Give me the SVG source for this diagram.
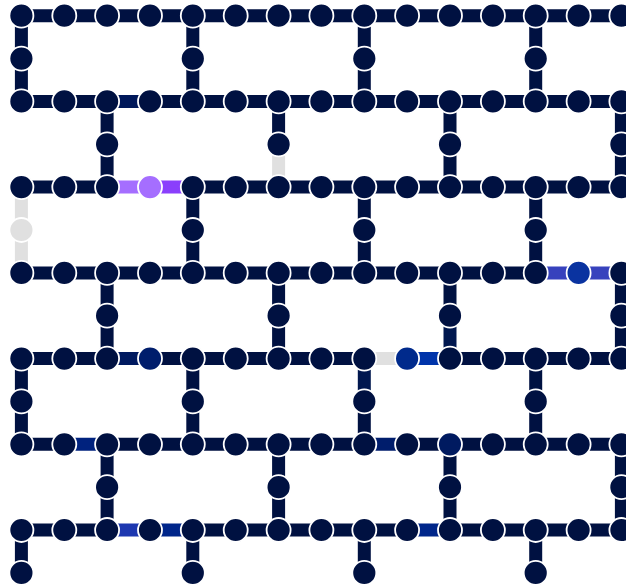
<svg xmlns="http://www.w3.org/2000/svg" width="626" height="586" viewBox="0 0 626 586">
<style>
.e{stroke:#001141;stroke-width:13;stroke-linecap:butt}
.n{fill:#001141;stroke:#ffffff;stroke-width:1.8}
</style>
<rect width="626" height="586" fill="#ffffff"/>
<g id="connectors">
<!-- row 0 -->
<line class="e" x1="21.4" y1="15.7" x2="64.3" y2="15.7"/><line class="e" x1="64.3" y1="15.7" x2="107.1" y2="15.7"/><line class="e" x1="107.1" y1="15.7" x2="150" y2="15.7"/><line class="e" x1="150" y1="15.7" x2="192.8" y2="15.7"/><line class="e" x1="192.8" y1="15.7" x2="235.7" y2="15.7"/><line class="e" x1="235.7" y1="15.7" x2="278.6" y2="15.7"/><line class="e" x1="278.6" y1="15.7" x2="321.4" y2="15.7"/><line class="e" x1="321.4" y1="15.7" x2="364.3" y2="15.7"/><line class="e" x1="364.3" y1="15.7" x2="407.1" y2="15.7"/><line class="e" x1="407.1" y1="15.7" x2="450" y2="15.7"/><line class="e" x1="450" y1="15.7" x2="492.9" y2="15.7"/><line class="e" x1="492.9" y1="15.7" x2="535.7" y2="15.7"/><line class="e" x1="535.7" y1="15.7" x2="578.6" y2="15.7"/><line class="e" x1="578.6" y1="15.7" x2="621.4" y2="15.7"/>
<!-- row 2 -->
<line class="e" x1="21.4" y1="101.4" x2="64.3" y2="101.4"/><line class="e" x1="64.3" y1="101.4" x2="107.1" y2="101.4"/><line class="e" x1="107.1" y1="101.4" x2="150" y2="101.4" style="stroke:#00185a"/><line class="e" x1="150" y1="101.4" x2="192.8" y2="101.4"/><line class="e" x1="192.8" y1="101.4" x2="235.7" y2="101.4"/><line class="e" x1="235.7" y1="101.4" x2="278.6" y2="101.4"/><line class="e" x1="278.6" y1="101.4" x2="321.4" y2="101.4"/><line class="e" x1="321.4" y1="101.4" x2="364.3" y2="101.4"/><line class="e" x1="364.3" y1="101.4" x2="407.1" y2="101.4"/><line class="e" x1="407.1" y1="101.4" x2="450" y2="101.4"/><line class="e" x1="450" y1="101.4" x2="492.9" y2="101.4"/><line class="e" x1="492.9" y1="101.4" x2="535.7" y2="101.4"/><line class="e" x1="535.7" y1="101.4" x2="578.6" y2="101.4"/><line class="e" x1="578.6" y1="101.4" x2="621.4" y2="101.4"/>
<!-- row 4 -->
<line class="e" x1="21.4" y1="187.1" x2="64.3" y2="187.1"/><line class="e" x1="64.3" y1="187.1" x2="107.1" y2="187.1"/><line class="e" x1="107.1" y1="187.1" x2="150" y2="187.1" style="stroke:#a56eff"/><line class="e" x1="150" y1="187.1" x2="192.8" y2="187.1" style="stroke:#8a3ffc"/><line class="e" x1="192.8" y1="187.1" x2="235.7" y2="187.1"/><line class="e" x1="235.7" y1="187.1" x2="278.6" y2="187.1"/><line class="e" x1="278.6" y1="187.1" x2="321.4" y2="187.1"/><line class="e" x1="321.4" y1="187.1" x2="364.3" y2="187.1"/><line class="e" x1="364.3" y1="187.1" x2="407.1" y2="187.1"/><line class="e" x1="407.1" y1="187.1" x2="450" y2="187.1"/><line class="e" x1="450" y1="187.1" x2="492.9" y2="187.1"/><line class="e" x1="492.9" y1="187.1" x2="535.7" y2="187.1"/><line class="e" x1="535.7" y1="187.1" x2="578.6" y2="187.1"/><line class="e" x1="578.6" y1="187.1" x2="621.4" y2="187.1"/>
<!-- row 6 -->
<line class="e" x1="21.4" y1="272.9" x2="64.3" y2="272.9"/><line class="e" x1="64.3" y1="272.9" x2="107.1" y2="272.9"/><line class="e" x1="107.1" y1="272.9" x2="150" y2="272.9"/><line class="e" x1="150" y1="272.9" x2="192.8" y2="272.9"/><line class="e" x1="192.8" y1="272.9" x2="235.7" y2="272.9"/><line class="e" x1="235.7" y1="272.9" x2="278.6" y2="272.9"/><line class="e" x1="278.6" y1="272.9" x2="321.4" y2="272.9"/><line class="e" x1="321.4" y1="272.9" x2="364.3" y2="272.9"/><line class="e" x1="364.3" y1="272.9" x2="407.1" y2="272.9"/><line class="e" x1="407.1" y1="272.9" x2="450" y2="272.9"/><line class="e" x1="450" y1="272.9" x2="492.9" y2="272.9"/><line class="e" x1="492.9" y1="272.9" x2="535.7" y2="272.9"/><line class="e" x1="535.7" y1="272.9" x2="578.6" y2="272.9" style="stroke:#3742bd"/><line class="e" x1="578.6" y1="272.9" x2="621.4" y2="272.9" style="stroke:#3742bd"/>
<!-- row 8 -->
<line class="e" x1="21.4" y1="358.6" x2="64.3" y2="358.6"/><line class="e" x1="64.3" y1="358.6" x2="107.1" y2="358.6"/><line class="e" x1="107.1" y1="358.6" x2="150" y2="358.6" style="stroke:#001a60"/><line class="e" x1="150" y1="358.6" x2="192.8" y2="358.6"/><line class="e" x1="192.8" y1="358.6" x2="235.7" y2="358.6"/><line class="e" x1="235.7" y1="358.6" x2="278.6" y2="358.6"/><line class="e" x1="278.6" y1="358.6" x2="321.4" y2="358.6"/><line class="e" x1="321.4" y1="358.6" x2="364.3" y2="358.6"/><line class="e" x1="364.3" y1="358.6" x2="407.1" y2="358.6" style="stroke:#e0e0e0"/><line class="e" x1="407.1" y1="358.6" x2="450" y2="358.6" style="stroke:#0034aa"/><line class="e" x1="450" y1="358.6" x2="492.9" y2="358.6"/><line class="e" x1="492.9" y1="358.6" x2="535.7" y2="358.6"/><line class="e" x1="535.7" y1="358.6" x2="578.6" y2="358.6"/><line class="e" x1="578.6" y1="358.6" x2="621.4" y2="358.6"/>
<!-- row 10 -->
<line class="e" x1="21.4" y1="444.3" x2="64.3" y2="444.3"/><line class="e" x1="64.3" y1="444.3" x2="107.1" y2="444.3" style="stroke:#00227e"/><line class="e" x1="107.1" y1="444.3" x2="150" y2="444.3"/><line class="e" x1="150" y1="444.3" x2="192.8" y2="444.3"/><line class="e" x1="192.8" y1="444.3" x2="235.7" y2="444.3"/><line class="e" x1="235.7" y1="444.3" x2="278.6" y2="444.3"/><line class="e" x1="278.6" y1="444.3" x2="321.4" y2="444.3"/><line class="e" x1="321.4" y1="444.3" x2="364.3" y2="444.3"/><line class="e" x1="364.3" y1="444.3" x2="407.1" y2="444.3" style="stroke:#001d6c"/><line class="e" x1="407.1" y1="444.3" x2="450" y2="444.3"/><line class="e" x1="450" y1="444.3" x2="492.9" y2="444.3"/><line class="e" x1="492.9" y1="444.3" x2="535.7" y2="444.3"/><line class="e" x1="535.7" y1="444.3" x2="578.6" y2="444.3"/><line class="e" x1="578.6" y1="444.3" x2="621.4" y2="444.3"/>
<!-- row 12 -->
<line class="e" x1="21.4" y1="530" x2="64.3" y2="530"/><line class="e" x1="64.3" y1="530" x2="107.1" y2="530"/><line class="e" x1="107.1" y1="530" x2="150" y2="530" style="stroke:#1d38b0"/><line class="e" x1="150" y1="530" x2="192.8" y2="530" style="stroke:#00268a"/><line class="e" x1="192.8" y1="530" x2="235.7" y2="530"/><line class="e" x1="235.7" y1="530" x2="278.6" y2="530"/><line class="e" x1="278.6" y1="530" x2="321.4" y2="530"/><line class="e" x1="321.4" y1="530" x2="364.3" y2="530"/><line class="e" x1="364.3" y1="530" x2="407.1" y2="530"/><line class="e" x1="407.1" y1="530" x2="450" y2="530" style="stroke:#00268a"/><line class="e" x1="450" y1="530" x2="492.9" y2="530"/><line class="e" x1="492.9" y1="530" x2="535.7" y2="530"/><line class="e" x1="535.7" y1="530" x2="578.6" y2="530"/><line class="e" x1="578.6" y1="530" x2="621.4" y2="530"/>
<!-- verticals -->
<line class="e" x1="21.4" y1="15.7" x2="21.4" y2="101.4"/><line class="e" x1="192.8" y1="15.7" x2="192.8" y2="101.4"/><line class="e" x1="364.3" y1="15.7" x2="364.3" y2="101.4"/><line class="e" x1="535.7" y1="15.7" x2="535.7" y2="101.4"/>
<line class="e" x1="107.1" y1="101.4" x2="107.1" y2="187.1"/><line class="e" x1="278.6" y1="101.4" x2="278.6" y2="144.3"/><line class="e" x1="278.6" y1="144.3" x2="278.6" y2="187.1" style="stroke:#e0e0e0"/><line class="e" x1="450" y1="101.4" x2="450" y2="187.1"/><line class="e" x1="621.4" y1="101.4" x2="621.4" y2="187.1"/>
<line class="e" x1="21.4" y1="187.1" x2="21.4" y2="272.9" style="stroke:#e0e0e0"/><line class="e" x1="192.8" y1="187.1" x2="192.8" y2="272.9"/><line class="e" x1="364.3" y1="187.1" x2="364.3" y2="272.9"/><line class="e" x1="535.7" y1="187.1" x2="535.7" y2="272.9"/>
<line class="e" x1="107.1" y1="272.9" x2="107.1" y2="358.6"/><line class="e" x1="278.6" y1="272.9" x2="278.6" y2="358.6"/><line class="e" x1="450" y1="272.9" x2="450" y2="315.7"/><line class="e" x1="450" y1="315.7" x2="450" y2="358.6" style="stroke:#00174f"/><line class="e" x1="621.4" y1="272.9" x2="621.4" y2="358.6"/>
<line class="e" x1="21.4" y1="358.6" x2="21.4" y2="444.3"/><line class="e" x1="192.8" y1="358.6" x2="192.8" y2="444.3"/><line class="e" x1="364.3" y1="358.6" x2="364.3" y2="401.4" style="stroke:#00174f"/><line class="e" x1="364.3" y1="401.4" x2="364.3" y2="444.3"/><line class="e" x1="535.7" y1="358.6" x2="535.7" y2="444.3"/>
<line class="e" x1="107.1" y1="444.3" x2="107.1" y2="530"/><line class="e" x1="278.6" y1="444.3" x2="278.6" y2="530"/><line class="e" x1="450" y1="444.3" x2="450" y2="530"/><line class="e" x1="621.4" y1="444.3" x2="621.4" y2="530"/>
<line class="e" x1="21.4" y1="530" x2="21.4" y2="572.9"/><line class="e" x1="192.8" y1="530" x2="192.8" y2="572.9"/><line class="e" x1="364.3" y1="530" x2="364.3" y2="572.9"/><line class="e" x1="535.7" y1="530" x2="535.7" y2="572.9"/>
</g>
<g id="nodes">
<!-- row 0 -->
<g id="n0-0"><circle class="n" cx="21.4" cy="15.7" r="12"/></g><g id="n0-1"><circle class="n" cx="64.3" cy="15.7" r="12"/></g><g id="n0-2"><circle class="n" cx="107.1" cy="15.7" r="12"/></g><g id="n0-3"><circle class="n" cx="150" cy="15.7" r="12"/></g><g id="n0-4"><circle class="n" cx="192.8" cy="15.7" r="12"/></g><g id="n0-5"><circle class="n" cx="235.7" cy="15.7" r="12"/></g><g id="n0-6"><circle class="n" cx="278.6" cy="15.7" r="12"/></g><g id="n0-7"><circle class="n" cx="321.4" cy="15.7" r="12"/></g><g id="n0-8"><circle class="n" cx="364.3" cy="15.7" r="12"/></g><g id="n0-9"><circle class="n" cx="407.1" cy="15.7" r="12"/></g><g id="n0-10"><circle class="n" cx="450" cy="15.7" r="12"/></g><g id="n0-11"><circle class="n" cx="492.9" cy="15.7" r="12"/></g><g id="n0-12"><circle class="n" cx="535.7" cy="15.7" r="12"/></g><g id="n0-13"><circle class="n" cx="578.6" cy="15.7" r="12"/></g><g id="n0-14"><circle class="n" cx="621.4" cy="15.7" r="12"/></g>
<!-- row 1 -->
<g id="n1-0"><circle class="n" cx="21.4" cy="58.6" r="12"/></g><g id="n1-4"><circle class="n" cx="192.8" cy="58.6" r="12"/></g><g id="n1-8"><circle class="n" cx="364.3" cy="58.6" r="12"/></g><g id="n1-12"><circle class="n" cx="535.7" cy="58.6" r="12"/></g>
<!-- row 2 -->
<g id="n2-0"><circle class="n" cx="21.4" cy="101.4" r="12"/></g><g id="n2-1"><circle class="n" cx="64.3" cy="101.4" r="12"/></g><g id="n2-2"><circle class="n" cx="107.1" cy="101.4" r="12"/></g><g id="n2-3"><circle class="n" cx="150" cy="101.4" r="12"/></g><g id="n2-4"><circle class="n" cx="192.8" cy="101.4" r="12"/></g><g id="n2-5"><circle class="n" cx="235.7" cy="101.4" r="12"/></g><g id="n2-6"><circle class="n" cx="278.6" cy="101.4" r="12"/></g><g id="n2-7"><circle class="n" cx="321.4" cy="101.4" r="12"/></g><g id="n2-8"><circle class="n" cx="364.3" cy="101.4" r="12"/></g><g id="n2-9"><circle class="n" cx="407.1" cy="101.4" r="12"/></g><g id="n2-10"><circle class="n" cx="450" cy="101.4" r="12"/></g><g id="n2-11"><circle class="n" cx="492.9" cy="101.4" r="12"/></g><g id="n2-12"><circle class="n" cx="535.7" cy="101.4" r="12"/></g><g id="n2-13"><circle class="n" cx="578.6" cy="101.4" r="12"/></g><g id="n2-14"><circle class="n" cx="621.4" cy="101.4" r="12"/></g>
<!-- row 3 -->
<g id="n3-2"><circle class="n" cx="107.1" cy="144.3" r="12"/></g><g id="n3-6"><circle class="n" cx="278.6" cy="144.3" r="12"/></g><g id="n3-10"><circle class="n" cx="450" cy="144.3" r="12"/></g><g id="n3-14"><circle class="n" cx="621.4" cy="144.3" r="12"/></g>
<!-- row 4 -->
<g id="n4-0"><circle class="n" cx="21.4" cy="187.1" r="12"/></g><g id="n4-1"><circle class="n" cx="64.3" cy="187.1" r="12"/></g><g id="n4-2"><circle class="n" cx="107.1" cy="187.1" r="12"/></g><g id="n4-3"><circle class="n" cx="150" cy="187.1" r="12" style="fill:#a56eff"/></g><g id="n4-4"><circle class="n" cx="192.8" cy="187.1" r="12"/></g><g id="n4-5"><circle class="n" cx="235.7" cy="187.1" r="12"/></g><g id="n4-6"><circle class="n" cx="278.6" cy="187.1" r="12"/></g><g id="n4-7"><circle class="n" cx="321.4" cy="187.1" r="12"/></g><g id="n4-8"><circle class="n" cx="364.3" cy="187.1" r="12"/></g><g id="n4-9"><circle class="n" cx="407.1" cy="187.1" r="12"/></g><g id="n4-10"><circle class="n" cx="450" cy="187.1" r="12"/></g><g id="n4-11"><circle class="n" cx="492.9" cy="187.1" r="12"/></g><g id="n4-12"><circle class="n" cx="535.7" cy="187.1" r="12"/></g><g id="n4-13"><circle class="n" cx="578.6" cy="187.1" r="12"/></g><g id="n4-14"><circle class="n" cx="621.4" cy="187.1" r="12"/></g>
<!-- row 5 -->
<g id="n5-0"><circle class="n" cx="21.4" cy="230" r="12" style="fill:#e0e0e0"/></g><g id="n5-4"><circle class="n" cx="192.8" cy="230" r="12"/></g><g id="n5-8"><circle class="n" cx="364.3" cy="230" r="12"/></g><g id="n5-12"><circle class="n" cx="535.7" cy="230" r="12"/></g>
<!-- row 6 -->
<g id="n6-0"><circle class="n" cx="21.4" cy="272.9" r="12"/></g><g id="n6-1"><circle class="n" cx="64.3" cy="272.9" r="12"/></g><g id="n6-2"><circle class="n" cx="107.1" cy="272.9" r="12"/></g><g id="n6-3"><circle class="n" cx="150" cy="272.9" r="12"/></g><g id="n6-4"><circle class="n" cx="192.8" cy="272.9" r="12"/></g><g id="n6-5"><circle class="n" cx="235.7" cy="272.9" r="12"/></g><g id="n6-6"><circle class="n" cx="278.6" cy="272.9" r="12"/></g><g id="n6-7"><circle class="n" cx="321.4" cy="272.9" r="12"/></g><g id="n6-8"><circle class="n" cx="364.3" cy="272.9" r="12"/></g><g id="n6-9"><circle class="n" cx="407.1" cy="272.9" r="12"/></g><g id="n6-10"><circle class="n" cx="450" cy="272.9" r="12"/></g><g id="n6-11"><circle class="n" cx="492.9" cy="272.9" r="12"/></g><g id="n6-12"><circle class="n" cx="535.7" cy="272.9" r="12"/></g><g id="n6-13"><circle class="n" cx="578.6" cy="272.9" r="12" style="fill:#0a33a0"/></g><g id="n6-14"><circle class="n" cx="621.4" cy="272.9" r="12"/></g>
<!-- row 7 -->
<g id="n7-2"><circle class="n" cx="107.1" cy="315.7" r="12"/></g><g id="n7-6"><circle class="n" cx="278.6" cy="315.7" r="12"/></g><g id="n7-10"><circle class="n" cx="450" cy="315.7" r="12"/></g><g id="n7-14"><circle class="n" cx="621.4" cy="315.7" r="12"/></g>
<!-- row 8 -->
<g id="n8-0"><circle class="n" cx="21.4" cy="358.6" r="12"/></g><g id="n8-1"><circle class="n" cx="64.3" cy="358.6" r="12"/></g><g id="n8-2"><circle class="n" cx="107.1" cy="358.6" r="12"/></g><g id="n8-3"><circle class="n" cx="150" cy="358.6" r="12" style="fill:#001d6c"/></g><g id="n8-4"><circle class="n" cx="192.8" cy="358.6" r="12"/></g><g id="n8-5"><circle class="n" cx="235.7" cy="358.6" r="12"/></g><g id="n8-6"><circle class="n" cx="278.6" cy="358.6" r="12"/></g><g id="n8-7"><circle class="n" cx="321.4" cy="358.6" r="12"/></g><g id="n8-8"><circle class="n" cx="364.3" cy="358.6" r="12"/></g><g id="n8-9"><circle class="n" cx="407.1" cy="358.6" r="12" style="fill:#002a8c"/></g><g id="n8-10"><circle class="n" cx="450" cy="358.6" r="12"/></g><g id="n8-11"><circle class="n" cx="492.9" cy="358.6" r="12"/></g><g id="n8-12"><circle class="n" cx="535.7" cy="358.6" r="12"/></g><g id="n8-13"><circle class="n" cx="578.6" cy="358.6" r="12"/></g><g id="n8-14"><circle class="n" cx="621.4" cy="358.6" r="12"/></g>
<!-- row 9 -->
<g id="n9-0"><circle class="n" cx="21.4" cy="401.4" r="12"/></g><g id="n9-4"><circle class="n" cx="192.8" cy="401.4" r="12"/></g><g id="n9-8"><circle class="n" cx="364.3" cy="401.4" r="12"/></g><g id="n9-12"><circle class="n" cx="535.7" cy="401.4" r="12"/></g>
<!-- row 10 -->
<g id="n10-0"><circle class="n" cx="21.4" cy="444.3" r="12"/></g><g id="n10-1"><circle class="n" cx="64.3" cy="444.3" r="12"/></g><g id="n10-2"><circle class="n" cx="107.1" cy="444.3" r="12"/></g><g id="n10-3"><circle class="n" cx="150" cy="444.3" r="12"/></g><g id="n10-4"><circle class="n" cx="192.8" cy="444.3" r="12"/></g><g id="n10-5"><circle class="n" cx="235.7" cy="444.3" r="12"/></g><g id="n10-6"><circle class="n" cx="278.6" cy="444.3" r="12"/></g><g id="n10-7"><circle class="n" cx="321.4" cy="444.3" r="12"/></g><g id="n10-8"><circle class="n" cx="364.3" cy="444.3" r="12"/></g><g id="n10-9"><circle class="n" cx="407.1" cy="444.3" r="12"/></g><g id="n10-10"><circle class="n" cx="450" cy="444.3" r="12" style="fill:#001a60"/></g><g id="n10-11"><circle class="n" cx="492.9" cy="444.3" r="12"/></g><g id="n10-12"><circle class="n" cx="535.7" cy="444.3" r="12"/></g><g id="n10-13"><circle class="n" cx="578.6" cy="444.3" r="12"/></g><g id="n10-14"><circle class="n" cx="621.4" cy="444.3" r="12"/></g>
<!-- row 11 -->
<g id="n11-2"><circle class="n" cx="107.1" cy="487.2" r="12"/></g><g id="n11-6"><circle class="n" cx="278.6" cy="487.2" r="12"/></g><g id="n11-10"><circle class="n" cx="450" cy="487.2" r="12"/></g><g id="n11-14"><circle class="n" cx="621.4" cy="487.2" r="12"/></g>
<!-- row 12 -->
<g id="n12-0"><circle class="n" cx="21.4" cy="530" r="12"/></g><g id="n12-1"><circle class="n" cx="64.3" cy="530" r="12"/></g><g id="n12-2"><circle class="n" cx="107.1" cy="530" r="12"/></g><g id="n12-3"><circle class="n" cx="150" cy="530" r="12"/></g><g id="n12-4"><circle class="n" cx="192.8" cy="530" r="12"/></g><g id="n12-5"><circle class="n" cx="235.7" cy="530" r="12"/></g><g id="n12-6"><circle class="n" cx="278.6" cy="530" r="12"/></g><g id="n12-7"><circle class="n" cx="321.4" cy="530" r="12"/></g><g id="n12-8"><circle class="n" cx="364.3" cy="530" r="12"/></g><g id="n12-9"><circle class="n" cx="407.1" cy="530" r="12"/></g><g id="n12-10"><circle class="n" cx="450" cy="530" r="12"/></g><g id="n12-11"><circle class="n" cx="492.9" cy="530" r="12"/></g><g id="n12-12"><circle class="n" cx="535.7" cy="530" r="12"/></g><g id="n12-13"><circle class="n" cx="578.6" cy="530" r="12"/></g><g id="n12-14"><circle class="n" cx="621.4" cy="530" r="12"/></g>
<!-- row 13 -->
<g id="n13-0"><circle class="n" cx="21.4" cy="572.9" r="12"/></g><g id="n13-4"><circle class="n" cx="192.8" cy="572.9" r="12"/></g><g id="n13-8"><circle class="n" cx="364.3" cy="572.9" r="12"/></g><g id="n13-12"><circle class="n" cx="535.7" cy="572.9" r="12"/></g>
</g>
</svg>
